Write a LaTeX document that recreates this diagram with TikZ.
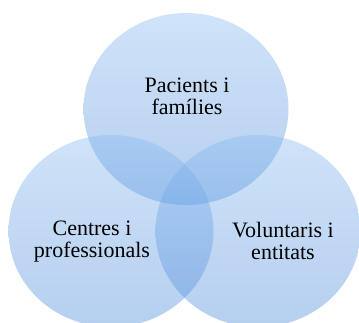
\documentclass[tikz,border=0pt]{standalone}
\usepackage{fontspec}
\setmainfont{Liberation Serif}
\usetikzlibrary{shapes.geometric}
\definecolor{venn-top}{RGB}{135,185,240}
\definecolor{venn-bot}{RGB}{70,135,215}

\begin{document}
\begin{tikzpicture}[x=0.75pt, y=-0.75pt]
	\tikzset{venn/.style={ellipse, inner sep=0pt, minimum width=153.75pt, minimum height=144pt, top color=venn-top, bottom color=venn-bot, fill opacity=0.4}}
	\tikzset{lbl/.style={align=center, text=black, inner sep=1pt, font=\fontsize{16.5}{16.5}\selectfont}}

	\clip (0,0) rectangle (359,323);

	\node[venn] (top) at (186,109) {};
	\node[venn] (left) at (111,231) {};
	\node[venn] (right) at (258,231) {};

	\node[lbl] (patients) at (187,96) {Pacients i\\famílies};
	\node[lbl] (centres) at (92,242) {Centres i\\professionals};
	\node[lbl] (volunteers) at (283,241) {Voluntaris i\\entitats};
\end{tikzpicture}
\end{document}
